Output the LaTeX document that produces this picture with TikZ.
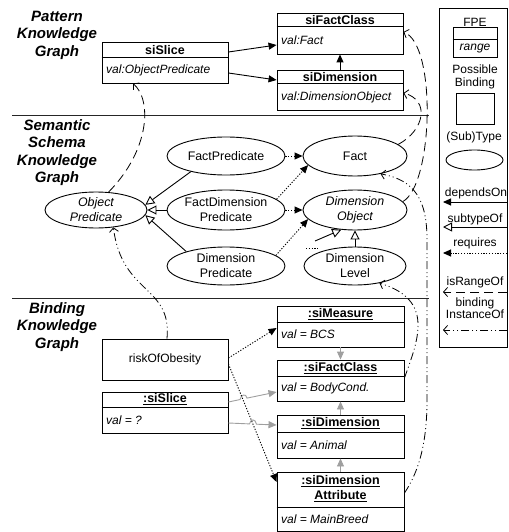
\documentclass[tikz,border=0pt]{standalone}
\usepackage{fontspec}
\setmainfont{Liberation Sans}
\usetikzlibrary{arrows.meta,shapes.geometric}
\begin{document}
\begin{tikzpicture}[x=1pt,y=-1pt,
  every node/.style={inner sep=0pt, font=\fontsize{12}{14}\selectfont},
  boxn/.style={draw, line width=0.9pt, minimum width=126},
  divl/.style={line width=0.9pt},
  ttl/.style={font=\fontsize{12.5}{15}\selectfont\bfseries, align=center},
  vl/.style={font=\fontsize{12}{14}\selectfont\itshape, anchor=west},
  ell/.style={draw, ellipse, line width=0.9pt, align=center, font=\fontsize{12.4}{15}\selectfont},
  sec/.style={font=\fontsize{15}{17.5}\selectfont\bfseries\itshape, align=center},
  dep/.style={line width=0.9pt, -{Triangle[length=8pt,width=7pt]}},
  sub/.style={line width=0.9pt, -{Triangle[open,length=9pt,width=9pt]}},
  req/.style={line width=0.9pt, dash pattern=on 1.2pt off 1.6pt, -{Triangle[length=8pt,width=7pt]}},
  rng/.style={line width=0.8pt, dash pattern=on 9pt off 5pt, -{Straight Barb[length=4pt,width=9pt]}},
  inst/.style={line width=0.8pt, dash pattern=on 8pt off 3pt on 1pt off 3pt on 1pt off 3pt, -{Straight Barb[length=4pt,width=9pt]}},
  gdep/.style={line width=0.9pt, draw=gray!75, -{Triangle[length=8pt,width=7pt]}},
  sepl/.style={line width=0.9pt, draw=black!85},
]
\useasboundingbox (0,0) rectangle (508,532);

% section labels
\node[sec] (sP) at (57,35) {Pattern\\Knowledge\\Graph};
\node[sec] (sS) at (57,152.5) {Semantic\\Schema\\Knowledge\\Graph};
\node[sec] (sB) at (57,327) {Binding\\Knowledge\\Graph};
\coordinate (l1a) at (12,115.5); \coordinate (l1b) at (429,115.5);
\coordinate (l2a) at (12,298.5); \coordinate (l2b) at (429,298.5);
\draw[sepl] (l1a) -- (l1b);
\draw[sepl] (l2a) -- (l2b);

% ---------- Pattern KG
\node[boxn, minimum height=41] (pSlice) at (165,62.5) {};
\draw[divl] ([yshift=5.5pt]pSlice.west) -- ([yshift=5.5pt]pSlice.east);
\node[ttl] (pSliceT) at (165,50) {siSlice};
\node[vl] (pSliceV) at (106,70) {val:ObjectPredicate};

\node[boxn, minimum height=41] (pFact) at (340,33.5) {};
\draw[divl] ([yshift=7.5pt]pFact.west) -- ([yshift=7.5pt]pFact.east);
\node[ttl] (pFactT) at (340,20) {siFactClass};
\node[vl] (pFactV) at (281,40) {val:Fact};

\node[boxn, minimum height=40] (pDim) at (340,90) {};
\draw[divl] ([yshift=7pt]pDim.west) -- ([yshift=7pt]pDim.east);
\node[ttl] (pDimT) at (340,77) {siDimension};
\node[vl] (pDimV) at (281,97) {val:DimensionObject};

\draw[dep] ([yshift=10.5pt]pSlice.east) -- ([yshift=-11.5pt]pFact.west);
\draw[dep] ([yshift=-10.5pt]pSlice.east) -- ([yshift=10pt]pDim.west);
\draw[dep] (pDim.north) -- (pFact.south);

% ---------- Semantic KG
\node[ell, minimum width=102, minimum height=36, font=\fontsize{12.4}{15}\selectfont\itshape] (eObj) at (96,210) {Object\\Predicate};
\node[ell, minimum width=118, minimum height=38] (eFP) at (226,156) {FactPredicate};
\node[ell, minimum width=118, minimum height=40] (eFDP) at (226,210) {FactDimension\\Predicate};
\node[ell, minimum width=118, minimum height=38] (eDP) at (226,266) {Dimension\\Predicate};
\node[ell, minimum width=104, minimum height=40] (eFact) at (355,156) {Fact};
\node[ell, minimum width=104, minimum height=40, font=\fontsize{12.4}{15}\selectfont\itshape] (eDO) at (355,210) {Dimension\\Object};
\node[ell, minimum width=102, minimum height=38] (eDL) at (355,266) {Dimension\\Level};

\draw[sub] (eFP.204) -- (eObj.6);
\draw[sub] (eFDP.west) -- (eObj.east);
\draw[sub] (eDP.160) -- (eObj.-6);
\draw[sub] (eDL.north) -- (eDO.south);
\coordinate (subTail) at (315,241);
\coordinate (dotA) at (306,248); \coordinate (dotB) at (318,248);
\draw[sub] (subTail) -- (eDO.235);
\draw[line width=0.9pt, dash pattern=on 1.2pt off 1.6pt] (dotA) -- (dotB);

\draw[req] (eFP.east) -- (eFact.west);
\draw[req] (eFDP.east) -- (eDO.west);
\draw[req] (eFDP.12) -- (eFact.191);
\draw[req] (eDP.12) -- (eDO.191);

% isRangeOf
\draw[rng] (eObj.55) .. controls (150,150) and (152,100) .. ([xshift=-32pt]pSlice.south);
\draw[rng] (eDO.10) .. controls (433,185) and (437,45) .. ([yshift=1.5pt]pFact.east);
\draw[rng] (eFact.15) .. controls (425,130) and (430,100) .. ([yshift=-3pt]pDim.east);

% ---------- Binding KG
\node[boxn, minimum height=41] (bRisk) at (165,359.5) {riskOfObesity};

\node[boxn, minimum height=41] (bSlice) at (165,412.5) {};
\draw[divl] ([yshift=5.5pt]bSlice.west) -- ([yshift=5.5pt]bSlice.east);
\node[ttl] (bSliceT) at (165,399.5) {\underline{:siSlice}};
\node[vl] (bSliceV) at (106,420) {val = ?};

\node[boxn, minimum width=127, minimum height=41] (bMeas) at (340.5,326.5) {};
\draw[divl] ([yshift=4.5pt]bMeas.west) -- ([yshift=4.5pt]bMeas.east);
\node[ttl] (bMeasT) at (340.5,314) {\underline{:siMeasure}};
\node[vl] (bMeasV) at (281,334.5) {val = BCS};

\node[boxn, minimum width=127, minimum height=41] (bFact) at (340.5,380.5) {};
\draw[divl] ([yshift=4.5pt]bFact.west) -- ([yshift=4.5pt]bFact.east);
\node[ttl] (bFactT) at (340.5,368) {\underline{:siFactClass}};
\node[vl] (bFactV) at (281,388.5) {val = BodyCond.};

\node[boxn, minimum width=127, minimum height=43] (bDim) at (340.5,436.5) {};
\draw[divl] ([yshift=4.5pt]bDim.west) -- ([yshift=4.5pt]bDim.east);
\node[ttl] (bDimT) at (340.5,423.5) {\underline{:siDimension}};
\node[vl] (bDimV) at (281,445) {val = Animal};

\node[boxn, minimum width=127, minimum height=59] (bAttr) at (340.5,501.5) {};
\draw[divl] ([yshift=-5.5pt]bAttr.west) -- ([yshift=-5.5pt]bAttr.east);
\node[ttl] (bAttrT) at (340.5,489) {\underline{:siDimension}\\\underline{Attribute}};
\node[vl] (bAttrV) at (281,519) {val = MainBreed};

% gray dependsOn
\draw[gdep] (bMeas.south) -- (bFact.north);
\draw[gdep] (bDim.north) -- (bFact.south);
\draw[gdep] (bAttr.north) -- (bDim.south);
\draw[gdep] ([yshift=10.5pt]bSlice.east) -- (240,399.55) .. controls (241,394.5) and (246,393) .. (247,398.1) -- ([yshift=-11.5pt]bFact.west);
\draw[gdep] ([yshift=-10.5pt]bSlice.east) -- (249.5,423.9) .. controls (250.5,418.5) and (255.5,418.5) .. (256.5,424.2) -- ([yshift=11.5pt]bDim.west);

% requires
\draw[req] ([yshift=1.5pt]bRisk.east) -- ([yshift=-1.5pt]bMeas.west);
\draw[req] ([yshift=-4.5pt]bRisk.east) -- ([yshift=19.5pt]bAttr.west);

% binding instanceOf
\draw[inst] ([xshift=2pt]bRisk.north) .. controls (172,285) and (122,295) .. (eObj.-45);
\draw[inst] ([yshift=8.5pt]bAttr.east) .. controls (420,470) and (427,440) .. (427,400) -- (427,240) .. controls (427,200) and (415,180) .. (eFact.-35);
\draw[inst] ([yshift=2.5pt]bFact.east) .. controls (418,340) and (435,300) .. (eDL.-35);

% ---------- Legend
\node[draw, line width=0.9pt, minimum width=68.5, minimum height=339] (leg) at (473.25,177.5) {};
\node (lgFPEt) at (475,22) {FPE};
\node[draw, line width=0.9pt, minimum width=44, minimum height=30] (lgFPE) at (475,42) {};
\draw[divl] ([yshift=3pt]lgFPE.west) -- ([yshift=3pt]lgFPE.east);
\node[font=\fontsize{12}{14}\selectfont\itshape] (lgRange) at (475,48.5) {range};
\node[align=center, font=\fontsize{12}{12.6}\selectfont] (lgPB) at (475,77) {Possible\\Binding};
\node[draw, line width=0.9pt, minimum width=38, minimum height=31] (lgBox) at (475,108.5) {};
\node (lgST) at (474,137) {(Sub)Type};
\node[ell, minimum width=57, minimum height=20] (lgEll) at (474.5,160) {};
\node (lgDep) at (476,193) {dependsOn};
\node (lgSub) at (475,219) {subtypeOf};
\node (lgReq) at (475,243) {requires};
\node (lgRng) at (475,282) {isRangeOf};
\node[align=center, font=\fontsize{12}{11}\selectfont] (lgInst) at (475,308) {binding\\InstanceOf};
\coordinate (a1) at (507,202); \coordinate (b1) at (443,202);
\coordinate (a2) at (507,227); \coordinate (b2) at (443,227);
\coordinate (a3) at (507,253); \coordinate (b3) at (443,253);
\coordinate (a4) at (507,292); \coordinate (b4) at (443,292);
\coordinate (a5) at (507,330); \coordinate (b5) at (443,330);
\draw[dep] (a1) -- (b1);
\draw[sub] (a2) -- (b2);
\draw[req] (a3) -- (b3);
\draw[rng] (a4) -- (b4);
\draw[inst] (a5) -- (b5);
\end{tikzpicture}
\end{document}
